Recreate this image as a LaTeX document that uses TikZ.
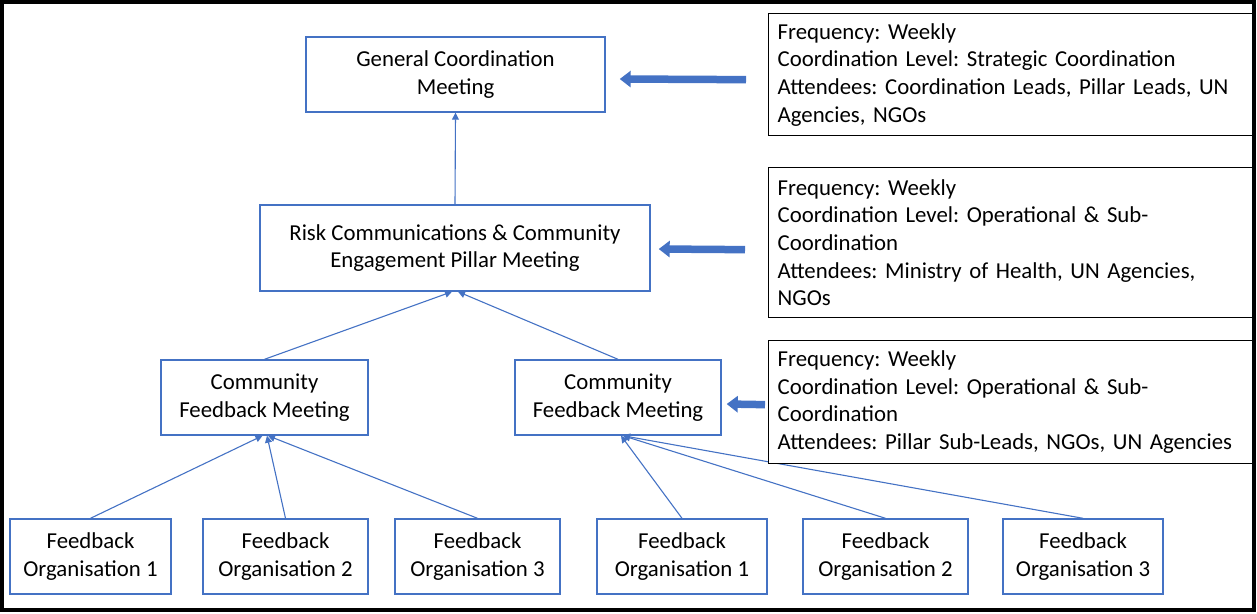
\documentclass[tikz,border=0pt]{standalone}
\usepackage{fontspec}
\setmainfont{Carlito}
\usetikzlibrary{arrows.meta,calc}
\definecolor{boxblue}{RGB}{68,114,196}
\frenchspacing

\begin{document}
\begin{tikzpicture}[x=1pt,y=-1pt,
  every node/.style={font=\fontsize{22.8}{27.6}\selectfont, inner sep=0pt},
  meeting/.style={draw=boxblue, line width=1.4pt, fill=white, align=center, minimum height=75pt},
  info/.style={draw=black, line width=1.3pt, fill=white, align=left, anchor=north west,
               minimum width=486pt, text width=468pt},
  conn/.style={draw=boxblue, line width=1.1pt, -{Triangle[length=7pt,width=7pt]}},
  fat/.style={draw=boxblue, line width=7.5pt, -{Triangle[length=11pt,width=16pt]}},
]
\useasboundingbox (0,0) rectangle (1257,613);

% meetings
\node[meeting, minimum width=299pt] (gcm) at (455.5,74.5) {General Coordination\\Meeting};
\node[meeting, minimum width=390pt, minimum height=86pt] (rcce) at (455,248)
  {Risk Communications \& Community\\Engagement Pillar Meeting};
\node[meeting, minimum width=207pt] (cfmL) at (264.5,397.5) {Community\\Feedback Meeting};
\node[meeting, minimum width=206pt] (cfmR) at (618,397.5) {Community\\Feedback Meeting};

% feedback organisations
\node[meeting, minimum width=161pt] (foL1) at (90.5,556.5) {Feedback\\Organisation 1};
\node[meeting, minimum width=165pt] (foL2) at (285.5,556.5) {Feedback\\Organisation 2};
\node[meeting, minimum width=165pt] (foL3) at (477.5,556.5) {Feedback\\Organisation 3};
\node[meeting, minimum width=170pt] (foR1) at (682,556.5) {Feedback\\Organisation 1};
\node[meeting, minimum width=165pt] (foR2) at (885.5,556.5) {Feedback\\Organisation 2};
\node[meeting, minimum width=160pt] (foR3) at (1083,556.5) {Feedback\\Organisation 3};

% reporting lines
\draw[conn] (rcce.north) -- (gcm.south);
\draw[conn] (cfmL.north) -- ($(rcce.south)+(-3,0)$);
\draw[conn] (cfmR.north) -- ($(rcce.south)+(3,0)$);
\draw[conn] (foL1.north) -- ($(cfmL.south)+(-2,0)$);
\draw[conn] (foL2.north) -- ($(cfmL.south)+(2.5,0)$);
\draw[conn] (foL3.north) -- ($(cfmL.south)+(3.5,0)$);
\draw[conn] (foR1.north) -- ($(cfmR.south)+(3,0)$);
\draw[conn] (foR2.north) -- ($(cfmR.south)+(5,0)$);
\draw[conn] (foR3.north) -- ($(cfmR.south)+(5,0)$);

% meeting details
\node[info, minimum height=122pt] (infoA) at (768,13)
  {Frequency: Weekly\\Coordination Level: Strategic Coordination\\Attendees: Coordination Leads, Pillar Leads, UN\\Agencies, NGOs};
\node[info, minimum height=150pt] (infoB) at (768,167)
  {Frequency: Weekly\\Coordination Level: Operational \& Sub-\\Coordination\\Attendees: Ministry of Health, UN Agencies,\\NGOs};
\node[info, minimum height=123pt] (infoC) at (768,340)
  {Frequency: Weekly\\Coordination Level: Operational \& Sub-\\Coordination\\Attendees: Pillar Sub-Leads, NGOs, UN Agencies};

% block arrows from details to meetings
\draw[fat] ($(infoA.west)+(-22,5)$) -- ($(gcm.east)+(14,4.5)$);
\draw[fat] ($(infoB.west)+(-23,7)$) -- ($(rcce.east)+(8,1)$);
\draw[fat] ($(infoC.west)+(-3,2.5)$) -- ($(cfmR.east)+(5,6.5)$);

% outer frame
\draw[line width=4pt] (2,2) rectangle (1254,610);
\end{tikzpicture}
\end{document}
